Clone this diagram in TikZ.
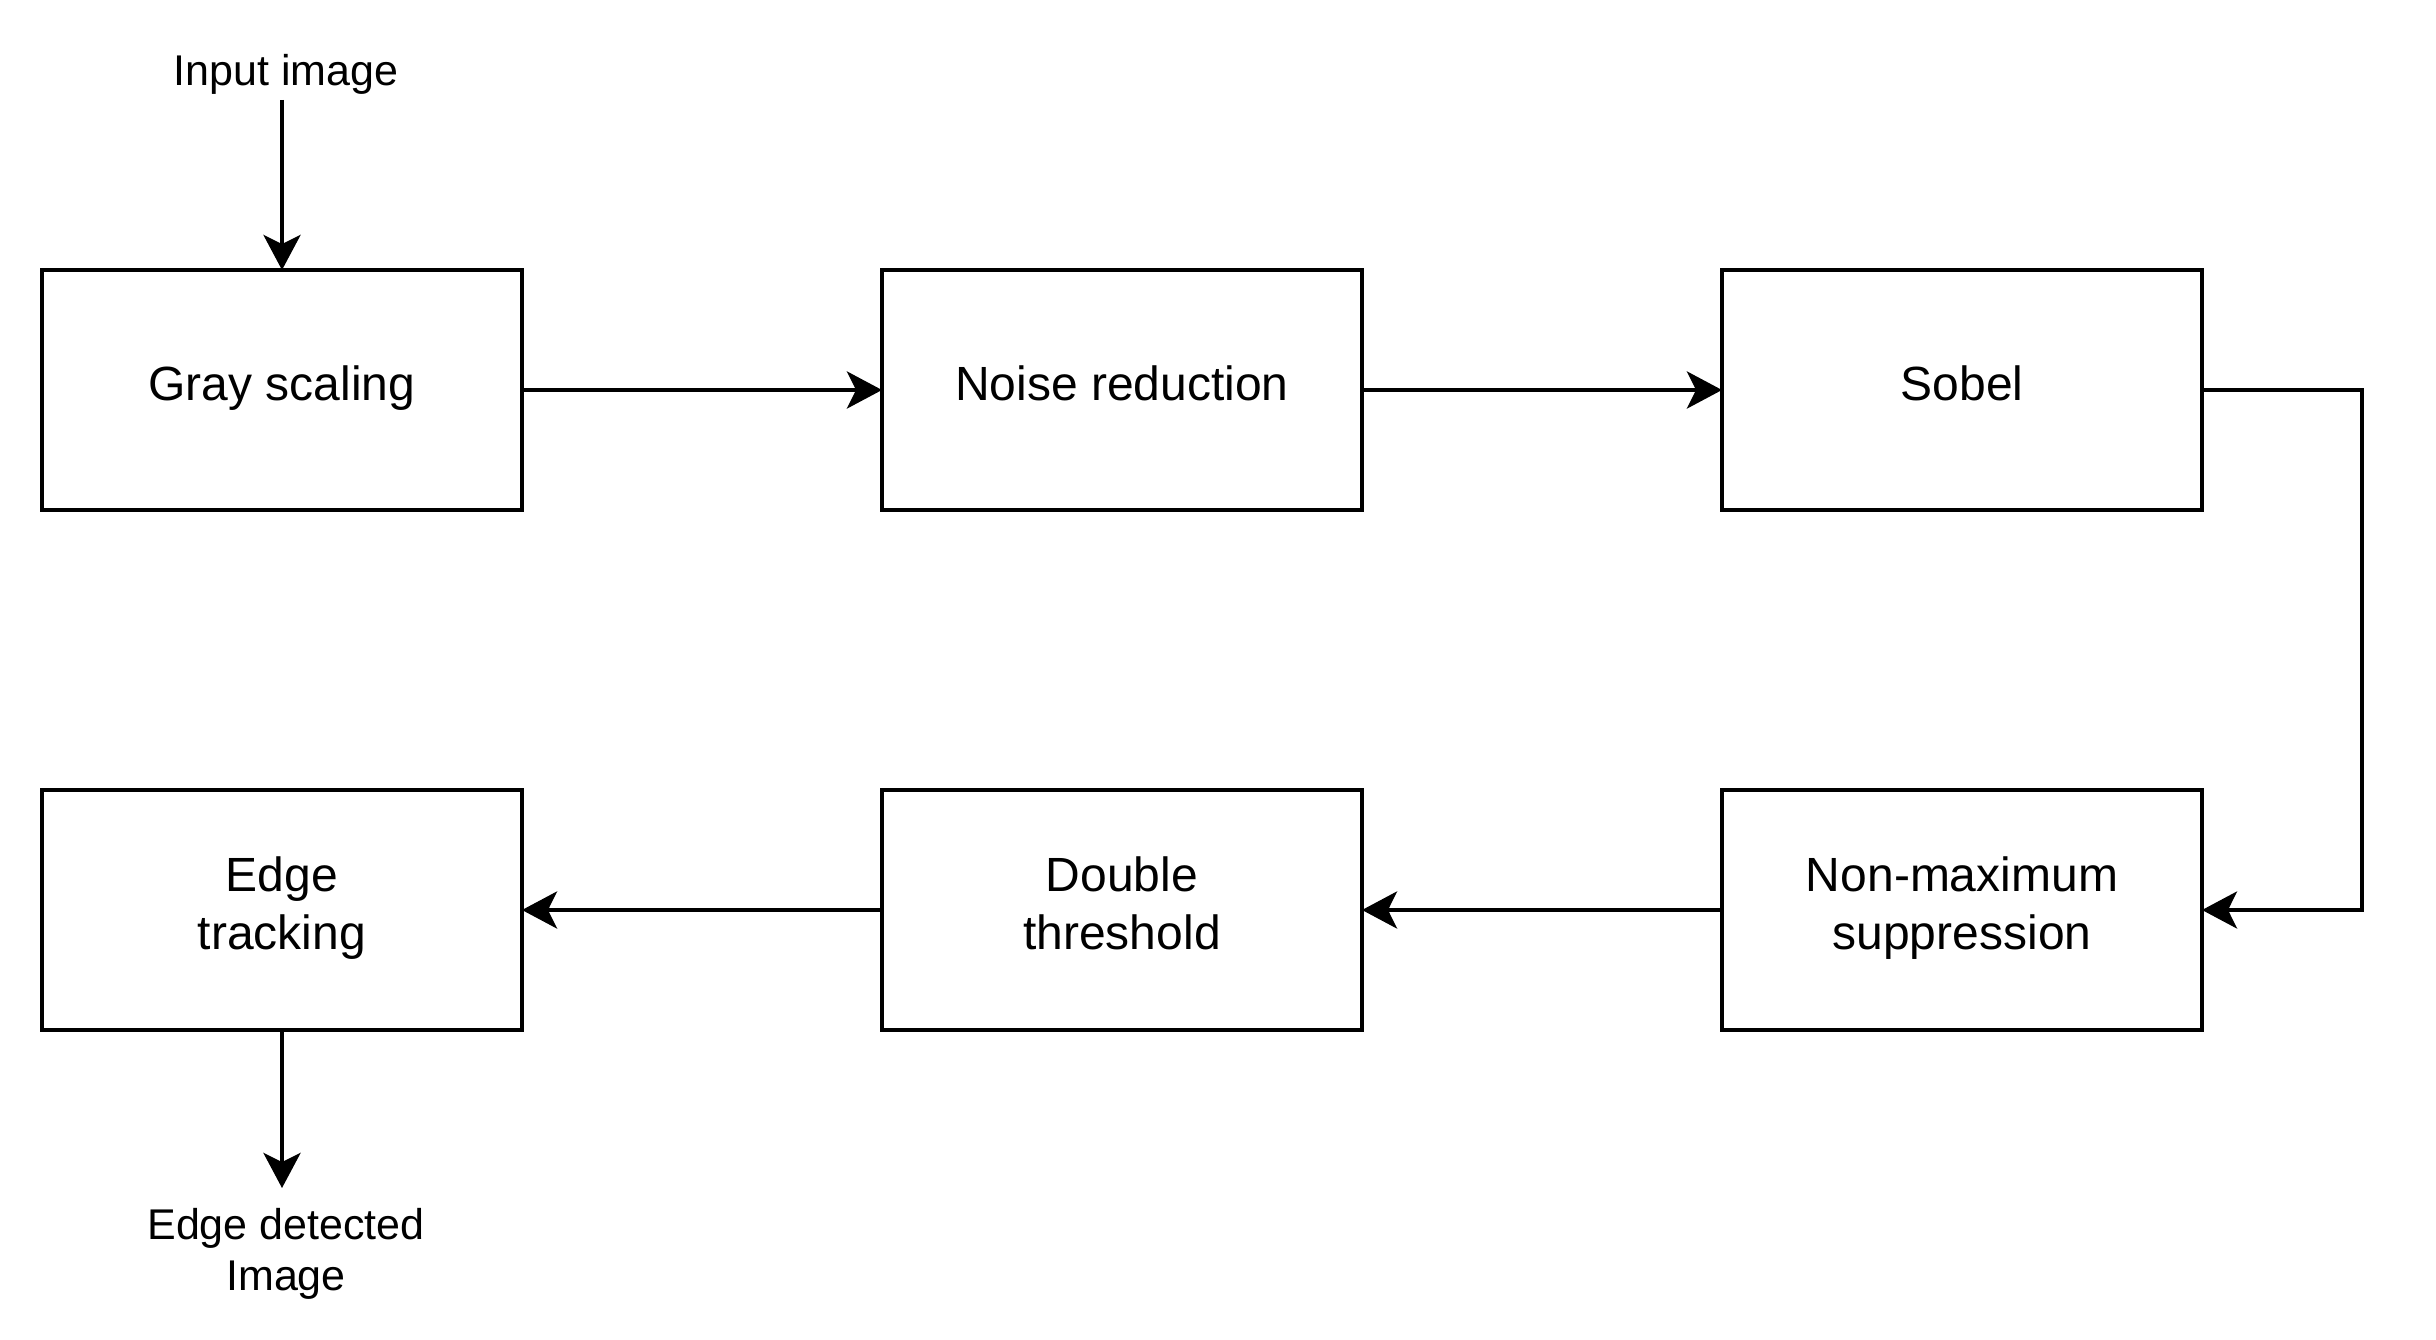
\documentclass[tikz,border=0pt]{standalone}
\usepackage{fontspec}
\setmainfont{Liberation Sans}
\usetikzlibrary{arrows.meta}
\newcommand\bst{\rule[-15pt]{0pt}{51pt}}
\newcommand\tst{\rule[-12pt]{0pt}{52pt}}
\tikzset{
  stepbox/.style={draw=black, line width=4pt, fill=white, outer sep=0pt, inner sep=0pt,
    minimum width=480pt, minimum height=240pt, align=center,
    font=\fontsize{48pt}{57.6pt}\selectfont},
  lbl/.style={inner sep=0pt, outer sep=0pt, align=center,
    font=\fontsize{43pt}{51.6pt}\selectfont},
  conn/.style={draw=black, line width=4pt,
    -{Stealth[length=35pt, width=37pt, inset=9pt]}}
}
\begin{document}
\begin{tikzpicture}[x=1pt, y=-1pt]
\fill[white] (0,0) rectangle (2436,1340);
\useasboundingbox (0,0) rectangle (2436,1340);

\node[stepbox] (gray)  at (282,390)  {\bst Gray scaling};
\node[stepbox] (noise) at (1122,390) {\bst Noise reduction};
\node[stepbox] (sobel) at (1962,390) {\bst Sobel};
\node[stepbox] (nms)   at (1962,910) {\bst Non-maximum\\suppression\bst};
\node[stepbox] (dbl)   at (1122,910) {\bst Double\\threshold\bst};
\node[stepbox] (edge)  at (282,910)  {\bst Edge\\tracking\bst};

\node[lbl, anchor=base] (in) at (286,86) {Input image};
\node[lbl, anchor=north] (out) at (286,1199) {\tst Edge detected\\Image};

\coordinate (inA) at (282,100);
\coordinate (outA) at (282,1188);

\draw[conn] (inA) -- (gray.north);
\draw[conn] (gray.east) -- (noise.west);
\draw[conn] (noise.east) -- (sobel.west);
\draw[conn] (sobel.east) -- ++(160,0) |- (nms.east);
\draw[conn] (nms.west) -- (dbl.east);
\draw[conn] (dbl.west) -- (edge.east);
\draw[conn] (edge.south) -- (outA);
\end{tikzpicture}
\end{document}
